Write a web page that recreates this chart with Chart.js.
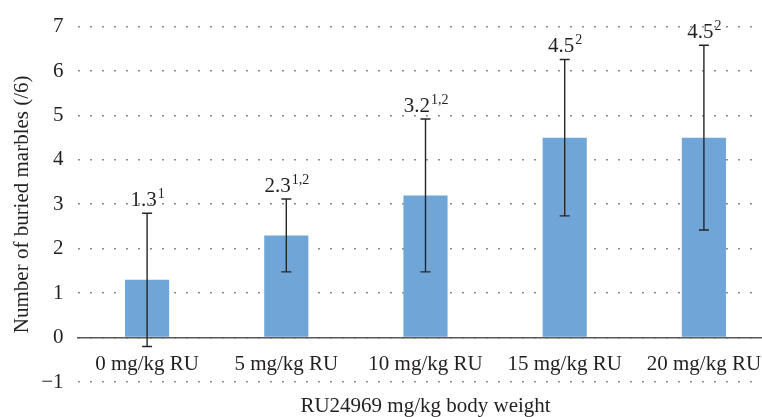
<!DOCTYPE html>
<html>
<head>
<meta charset="utf-8">
<script src="https://cdn.jsdelivr.net/npm/chart.js@4"></script>
<style>
  html, body { margin: 0; padding: 0; background: #fff; overflow: hidden; }
  #wrap { width: 776px; height: 417px; }
</style>
</head>
<body>
<div id="wrap"><canvas id="chart" width="776" height="417"></canvas></div>
<script>
// Data
const doses = ['0 mg/kg RU', '5 mg/kg RU', '10 mg/kg RU', '15 mg/kg RU', '20 mg/kg RU'];
const buried = [1.3, 2.3, 3.2, 4.5, 4.5];
const errors = [1.5, 0.82, 1.72, 1.76, 2.08];
const valueLabels = ['1.3', '2.3', '3.2', '4.5', '4.5'];
const supLabels = ['1', '1,2', '1,2', '2', '2'];

const FONT = '"Liberation Serif", "Times New Roman", serif';
const TEXT = '#231f20';

// Error bars + labels with superscripts
const errorBarPlugin = {
  id: 'errorBars',
  afterDatasetsDraw(chart) {
    const ctx = chart.ctx;
    const yScale = chart.scales.y;
    const meta = chart.getDatasetMeta(0);
    ctx.save();
    ctx.setLineDash([]);
    ctx.strokeStyle = '#262626';
    ctx.lineWidth = 1.4;
    meta.data.forEach((bar, i) => {
      const x = bar.x;
      const top = yScale.getPixelForValue(buried[i] + errors[i]);
      const bottom = yScale.getPixelForValue(buried[i] - errors[i]);
      ctx.beginPath();
      ctx.moveTo(x, top);
      ctx.lineTo(x, bottom);
      ctx.moveTo(x - 5, top);
      ctx.lineTo(x + 5, top);
      ctx.moveTo(x - 5, bottom);
      ctx.lineTo(x + 5, bottom);
      ctx.stroke();

      // value label with superscript
      ctx.fillStyle = TEXT;
      ctx.textBaseline = 'alphabetic';
      ctx.textAlign = 'left';
      ctx.font = '21px ' + FONT;
      const mainW = ctx.measureText(valueLabels[i]).width;
      ctx.font = '14px ' + FONT;
      const supW = ctx.measureText(supLabels[i]).width;
      const start = x - (mainW + supW) / 2;
      const base = top - 7;
      ctx.font = '21px ' + FONT;
      ctx.fillText(valueLabels[i], start, base);
      ctx.font = '14px ' + FONT;
      ctx.fillText(supLabels[i], start + mainW + 1, base - 8);
    });
    ctx.restore();
  }
};

new Chart(document.getElementById('chart'), {
  type: 'bar',
  data: {
    labels: doses,
    datasets: [{
      data: buried,
      backgroundColor: '#70a5d7',
      borderWidth: 0,
      barPercentage: 1,
      categoryPercentage: 0.317
    }]
  },
  options: {
    responsive: false,
    animation: false,
    events: [],
    layout: { padding: { top: 22, right: 2.5, left: 0, bottom: 0 } },
    plugins: { legend: { display: false }, tooltip: { enabled: false } },
    scales: {
      x: {
        type: 'category',
        position: { y: 0 },
        grid: { display: false, drawTicks: false },
        border: { display: true, color: '#595959', width: 1.6 },
        ticks: { color: TEXT, font: { family: FONT, size: 21 }, padding: 14, maxRotation: 0, autoSkip: false },
        afterFit: (s) => { s.height = 0; }
      },
      x2: {
        type: 'category',
        position: 'bottom',
        grid: { display: false, drawTicks: false },
        border: { display: false },
        ticks: { display: false },
        title: {
          display: true,
          text: 'RU24969 mg/kg body weight',
          color: TEXT,
          font: { family: FONT, size: 21 },
          padding: { top: 0, bottom: -2 }
        },
        afterFit: (s) => { s.height = 35; }
      },
      y: {
        min: -1,
        max: 7,
        ticks: {
          stepSize: 1,
          color: TEXT,
          font: { family: FONT, size: 21 },
          padding: 14,
          callback: (v) => (v < 0 ? '\u2212' + Math.abs(v) : String(v))
        },
        grid: { color: '#8a8a8a', lineWidth: 1.6, drawTicks: false },
        border: { display: false, dash: [2, 10] },
        title: {
          display: true,
          text: 'Number of buried marbles (/6)',
          color: TEXT,
          font: { family: FONT, size: 21 },
          padding: { top: 10, bottom: 0 }
        },
        afterFit: (s) => { s.width = 77.5; }
      }
    }
  },
  plugins: [errorBarPlugin]
});
</script>
</body>
</html>
